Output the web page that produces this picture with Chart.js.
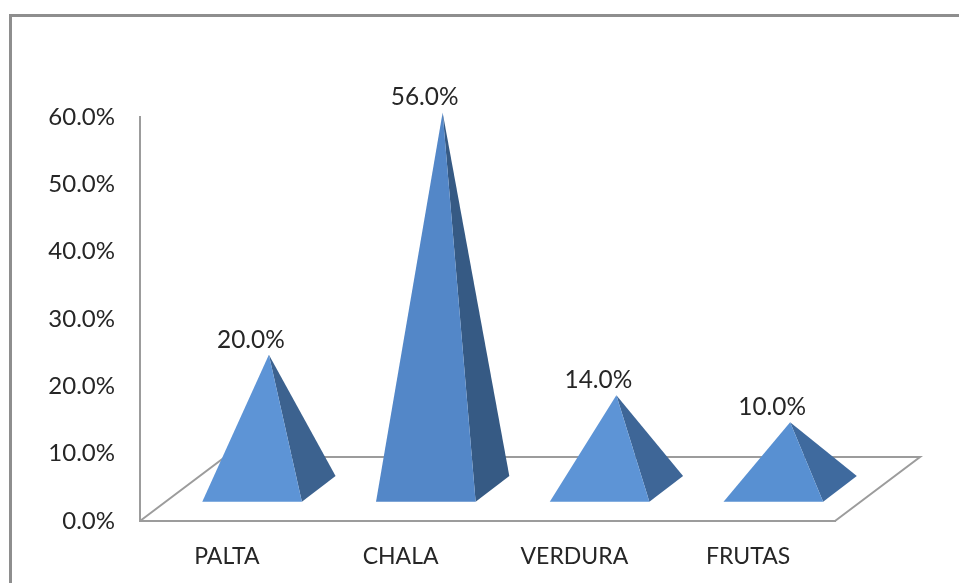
<!DOCTYPE html>
<html>
<head>
<meta charset="utf-8">
<title>Chart</title>
<script src="https://cdn.jsdelivr.net/npm/chart.js@4/dist/chart.umd.min.js"></script>
<style>
  html, body { margin: 0; padding: 0; background: #fff; overflow: hidden; }
  #wrap { position: relative; width: 959px; height: 583px; }
  #frame { position: absolute; left: 9px; top: 14px; right: -10px; bottom: -10px; border: 3px solid #8e8e8e; pointer-events: none; }
  canvas { position: absolute; left: 0; top: 0; }
</style>
</head>
<body>
<div id="wrap">
  <div id="frame"></div>
  <canvas id="chart" width="959" height="583"></canvas>
</div>
<script>
const categories = ['PALTA', 'CHALA', 'VERDURA', 'FRUTAS'];
const values = [20, 56, 14, 10];
const frontColors = ['#5d94d6', '#5387c8', '#5d94d6', '#5890d2'];
const sideColors = ['#3c628f', '#365a84', '#3e6697', '#3f6a9e'];

const TEXT = '#262626';
const LINE = '#9c9c9c';
const FONT = 'Lato, Carlito, sans-serif';

// fake 3D: the floor runs back up and to the right of the plot
const DEPTH_X = 85;
const DEPTH_Y = 64;

function poly(ctx, pts, fill) {
  ctx.beginPath();
  pts.forEach((p, i) => (i ? ctx.lineTo(p[0], p[1]) : ctx.moveTo(p[0], p[1])));
  ctx.closePath();
  ctx.fillStyle = fill;
  ctx.fill();
}

const pyramids = {
  id: 'pyramids',
  beforeDatasetsDraw(chart) {
    const { ctx, chartArea: a } = chart;
    ctx.save();
    ctx.strokeStyle = LINE;
    ctx.lineWidth = 2;
    ctx.beginPath();
    ctx.moveTo(a.left, a.bottom);
    ctx.lineTo(a.left + DEPTH_X, a.bottom - DEPTH_Y);
    ctx.lineTo(a.right + DEPTH_X, a.bottom - DEPTH_Y);
    ctx.lineTo(a.right, a.bottom);
    ctx.stroke();
    ctx.restore();
  },
  afterDatasetsDraw(chart) {
    const { ctx, chartArea: a, scales } = chart;
    const bars = chart.getDatasetMeta(0).data;
    ctx.save();
    bars.forEach((bar, i) => {
      const c = bar.x;
      const apex = [c + 42, scales.y.getPixelForValue(values[i]) - 31.5];
      const fl = [c - 24.6, a.bottom - 19.3];
      const fr = [c + 75, a.bottom - 19.3];
      const br = [c + 108.7, a.bottom - 45];
      poly(ctx, [fr, br, apex], sideColors[i]);
      poly(ctx, [fl, fr, apex], frontColors[i]);

      ctx.fillStyle = TEXT;
      ctx.font = '24.4px ' + FONT;
      ctx.textAlign = 'center';
      ctx.textBaseline = 'middle';
      ctx.fillText(values[i].toFixed(1) + '%', c + 24, apex[1] - 15);
    });
    ctx.restore();
  },
};

new Chart(document.getElementById('chart'), {
  type: 'bar',
  data: {
    labels: categories,
    datasets: [{ data: values, backgroundColor: 'transparent', borderWidth: 0 }],
  },
  plugins: [pyramids],
  options: {
    responsive: false,
    animation: false,
    layout: { padding: { left: 0, top: 117, right: 124, bottom: 0 } },
    plugins: { legend: { display: false }, tooltip: { enabled: false } },
    scales: {
      x: {
        afterFit: (s) => { s.height = 62; },
        grid: { display: false, drawTicks: false },
        border: { display: true, color: LINE, width: 2 },
        ticks: { color: TEXT, font: { family: FONT, size: 23 }, padding: 22, maxRotation: 0 },
      },
      y: {
        min: 0,
        max: 60,
        afterFit: (s) => { s.width = 140; },
        grid: { display: false, drawTicks: false },
        border: { display: true, color: LINE, width: 2 },
        ticks: {
          stepSize: 10,
          color: TEXT,
          font: { family: FONT, size: 24 },
          padding: 25,
          callback: (v) => v.toFixed(1) + '%',
        },
      },
    },
  },
});
</script>
</body>
</html>
